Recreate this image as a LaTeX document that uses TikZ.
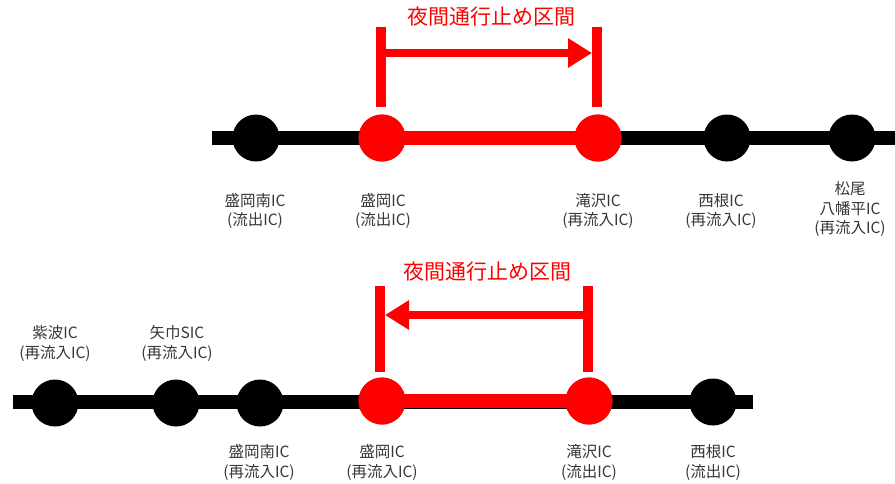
\documentclass[tikz,border=0pt]{standalone}
\usepackage{fontspec}
\newfontfamily\jp{Noto Sans CJK JP}
\usetikzlibrary{arrows.meta}
\definecolor{rd}{RGB}{255,0,0}
\definecolor{lbl}{RGB}{55,55,55}
\tikzset{
  road/.style={line width=14.5pt, black},
  redroad/.style={line width=14pt, rd},
  icb/.style={circle, fill=black, minimum size=47pt, inner sep=0pt},
  icr/.style={circle, fill=rd, minimum size=47pt, inner sep=0pt},
  bar/.style={line width=10pt, rd},
  arr/.style={line width=8pt, rd, -{Triangle[length=24pt,width=28pt]}},
  ttl/.style={font=\jp\fontsize{21}{24}\selectfont, text=rd, inner sep=0pt},
  lab/.style={font=\jp\fontsize{15.5}{19.5}\selectfont, text=lbl, align=center, inner sep=0pt}
}
\begin{document}
\begin{tikzpicture}[x=1pt,y=-1pt]
\useasboundingbox[fill=white] (0,0) rectangle (895,483);

% ---------- top diagram ----------
\coordinate (t0) at (212,138);
\coordinate (t9) at (895,138);
\draw[road] (t0) -- (t9);
\node[icb] (tA) at (256,138) {};
\node[icr] (tB) at (382,138) {};
\node[icr] (tC) at (598,138) {};
\node[icb] (tD) at (727,138) {};
\node[icb] (tE) at (852,138) {};
\draw[redroad] (tB.center) -- (tC.center);
\node[icr] at (tB) {};
\node[icr] at (tC) {};

\coordinate (tb1t) at (381,27);
\coordinate (tb1b) at (381,107);
\coordinate (tb2t) at (597,27);
\coordinate (tb2b) at (597,107);
\draw[bar] (tb1t) -- (tb1b);
\draw[bar] (tb2t) -- (tb2b);
\coordinate (ta1) at (381,53);
\coordinate (ta2) at (592,53);
\draw[arr] (ta1) -- (ta2);
\node[ttl] (tt) at (491,16.5) {夜間通行止め区間};

\node[lab] (tlA) at (255,211) {盛岡南IC\\(流出IC)};
\node[lab] (tlB) at (383,211) {盛岡IC\\(流出IC)};
\node[lab] (tlC) at (598,211) {滝沢IC\\(再流入IC)};
\node[lab] (tlD) at (721,211) {西根IC\\(再流入IC)};
\node[lab] (tlE) at (850,209.5) {松尾\\八幡平IC\\(再流入IC)};

% ---------- bottom diagram ----------
\coordinate (b0) at (13,402);
\coordinate (b9) at (753,402);
\draw[road] (b0) -- (b9);
\node[icb] (bA) at (55,403) {};
\node[icb] (bB) at (176,403) {};
\node[icb] (bC) at (260,403) {};
\node[icr] (bD) at (382,401) {};
\node[icr] (bE) at (589,401) {};
\node[icb] (bF) at (713,402) {};
\draw[redroad] (bD.center) -- (bE.center);
\node[icr] at (bD) {};
\node[icr] at (bE) {};

\coordinate (bb1t) at (380,286);
\coordinate (bb1b) at (380,372);
\coordinate (bb2t) at (588,286);
\coordinate (bb2b) at (588,372);
\draw[bar] (bb1t) -- (bb1b);
\draw[bar] (bb2t) -- (bb2b);
\coordinate (ba1) at (588,315);
\coordinate (ba2) at (385,315);
\draw[arr] (ba1) -- (ba2);
\node[ttl] (bt) at (487,272) {夜間通行止め区間};

\node[lab] (blA) at (55,343.5) {紫波IC\\(再流入IC)};
\node[lab] (blB) at (177,343.5) {矢巾SIC\\(再流入IC)};
\node[lab] (blC) at (259,462.5) {盛岡南IC\\(再流入IC)};
\node[lab] (blD) at (382,462.5) {盛岡IC\\(再流入IC)};
\node[lab] (blE) at (589,462.5) {滝沢IC\\(流出IC)};
\node[lab] (blF) at (713,462.5) {西根IC\\(流出IC)};
\end{tikzpicture}
\end{document}
